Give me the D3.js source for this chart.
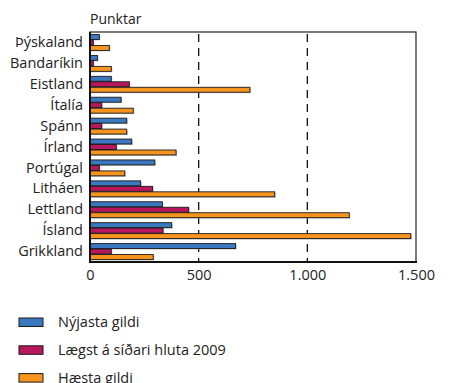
<!DOCTYPE html>
<html><head><meta charset="utf-8">
<script src="https://cdn.jsdelivr.net/npm/d3@7"></script>
<style>body{margin:0;background:#fff}svg{display:block}text{font-family:"Open Sans",sans-serif;fill:#222}</style>
</head><body><svg id="c" width="449" height="383"></svg>
<script>
const categories = ["Þýskaland","Bandaríkin","Eistland","Ítalía","Spánn","Írland","Portúgal","Litháen","Lettland","Ísland","Grikkland"];
const newest  = [43, 34, 98, 143, 169, 192, 298, 233, 333, 376, 670];
const low2009 = [15, 15, 181, 54, 54, 121, 43, 288, 454, 336, 98];
const highest = [89, 98, 736, 199, 169, 396, 160, 850, 1193, 1476, 291];
const seriesNames = ["Nýjasta gildi","Lægst á síðari hluta 2009","Hæsta gildi"];
const seriesColors = ["#3a78c0","#b8175e","#f7941d"];
const xTicks = [0, 500, 1000, 1500];
const xTickLabels = ["0","500","1.000","1.500"];
const yTitle = "Punktar";

const svg = d3.select("#c");
const L = 90, R = 416, T = 32, B = 262;
const x = d3.scaleLinear().domain([0,1500]).range([L,R]);
const y = d3.scaleBand().domain(categories).range([T,B]).paddingInner(0.24).paddingOuter(0.12);
const ys = d3.scaleBand().domain([0,1,2]).range([0,y.bandwidth()]).paddingInner(0.1);
const series = [newest, low2009, highest];

// frame
svg.append("rect").attr("x",L).attr("y",T).attr("width",R-L).attr("height",B-T)
  .attr("fill","none").attr("stroke","#222").attr("stroke-width",1.2);

// dashed grid
svg.selectAll("line.grid").data([500,1000]).join("line")
  .attr("x1",d=>x(d)).attr("x2",d=>x(d)).attr("y1",T+2).attr("y2",B)
  .attr("stroke","#111").attr("stroke-width",1.3).attr("stroke-dasharray","8,6");

// bars
series.forEach((vals,si)=>{
  const g = svg.append("g");
  g.selectAll("rect.sh").data(categories).join("rect")
    .attr("x",x(0)).attr("y",(d)=>y(d)+ys(si)+1)
    .attr("width",(d,i)=>Math.max(0,x(vals[i])-x(0)+1)).attr("height",ys.bandwidth())
    .attr("fill","#999").attr("opacity",0.6);
  g.selectAll("rect.b").data(categories).join("rect")
    .attr("x",x(0)).attr("y",(d)=>y(d)+ys(si))
    .attr("width",(d,i)=>x(vals[i])-x(0)).attr("height",ys.bandwidth())
    .attr("fill",seriesColors[si]).attr("stroke","#1a1a1a").attr("stroke-width",0.9);
});

// axes lines
svg.append("line").attr("x1",L).attr("x2",L).attr("y1",T).attr("y2",B+1).attr("stroke","#111").attr("stroke-width",2);
svg.append("line").attr("x1",L-1).attr("x2",R+1).attr("y1",B).attr("y2",B).attr("stroke","#111").attr("stroke-width",2);

// x tick labels
const xAxis = d3.axisBottom(x).tickValues(xTicks).tickFormat((d,i)=>xTickLabels[i]).tickSize(0).tickPadding(7);
const gx = svg.append("g").attr("transform",`translate(0,${B+1})`).call(xAxis);
gx.select(".domain").remove();
gx.selectAll("text").style("font-family","'Open Sans',sans-serif").style("font-size","14.5px").attr("fill","#222");

// y labels
const yAxis = d3.axisLeft(y).tickSize(0).tickPadding(7);
const gy = svg.append("g").attr("transform",`translate(${L},0)`).call(yAxis);
gy.select(".domain").remove();
gy.selectAll("text").style("font-family","'Open Sans',sans-serif").style("font-size","14.5px").attr("fill","#222");

svg.append("text").attr("x",L).attr("y",23.5).style("font-size","14px").text(yTitle);

// legend
const lg = svg.selectAll("g.lg").data(seriesNames).join("g").attr("transform",(d,i)=>`translate(19,${318+i*27.8})`);
lg.append("rect").attr("width",24).attr("height",8.5).attr("fill",(d,i)=>seriesColors[i]).attr("stroke","#1a1a1a").attr("stroke-width",1);
lg.append("text").attr("x",39).attr("y",9).style("font-size","14.5px").text(d=>d);
</script></body></html>
